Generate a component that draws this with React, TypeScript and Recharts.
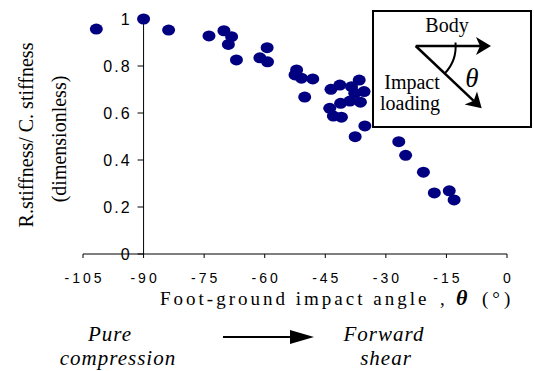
import React from "react";
import {
  ReferenceDot,
  ReferenceLine,
  Scatter,
  ScatterChart,
  XAxis,
  YAxis,
} from "recharts";

// foot-ground impact angle (deg)
const angles = [
  -101.7, -90, -83.8, -73.8, -70.1, -68.2, -69.0, -67.0, -59.4, -61.2, -59.3,
  -52.1, -52.5, -50.9, -48.1, -50.1, -43.6, -41.4, -38.5, -36.6, -35.4, -37.7,
  -41.2, -38.9, -36.3, -43.9, -43.0, -41.0, -35.2, -37.6, -26.8, -25.1, -20.7,
  -18.0, -14.3, -13.1,
];

// R. stiffness / C. stiffness
const ratios = [
  0.957, 1.0, 0.953, 0.928, 0.95, 0.925, 0.892, 0.826, 0.878, 0.835, 0.818,
  0.783, 0.762, 0.748, 0.745, 0.668, 0.701, 0.719, 0.712, 0.74, 0.691, 0.684,
  0.641, 0.651, 0.646, 0.62, 0.587, 0.582, 0.545, 0.499, 0.478, 0.42, 0.348,
  0.26, 0.269, 0.23,
];

const xTicks = [-105, -90, -75, -60, -45, -30, -15, 0];
const yTicks = [0, 0.2, 0.4, 0.6, 0.8, 1];
const yAxisAt = -90;

const points = angles.map((x, i) => ({ x, y: ratios[i] }));

const SANS = "Liberation Sans";
const SERIF = "Liberation Serif";
const NAVY = "#000080";

const Dot = (p: any) => <ellipse cx={p.cx} cy={p.cy} rx={6.5} ry={5.5} fill={NAVY} />;

const XTick = (p: any) => (
  <text
    x={p.x + 1.5}
    y={p.y}
    dy="0.71em"
    textAnchor="middle"
    fill="#000"
    fontFamily={SANS}
    fontSize={14}
    letterSpacing={3}
  >
    {p.payload.value}
  </text>
);

// y axis sits at theta = -90, so its ticks are reference dots on that line
const yTickShape = (label: string) => (p: any) => (
  <g>
    <line x1={p.cx - 6} y1={p.cy} x2={p.cx} y2={p.cy} stroke="#000" strokeWidth={1} />
    <text
      x={p.cx - 12}
      y={p.cy}
      dy="0.36em"
      textAnchor="end"
      fill="#000"
      fontFamily={SANS}
      fontSize={16}
      letterSpacing={2}
    >
      {label}
    </text>
  </g>
);

const serif = (size: number, extra: any = {}) => ({
  fontFamily: SERIF,
  fontSize: size,
  fill: "#000",
  ...extra,
});

function Overlay() {
  return (
    <svg
      width={534}
      height={371}
      style={{ position: "absolute", left: 0, top: 0, pointerEvents: "none" }}
    >
      {/* y axis title */}
      <text x={33} y={135} textAnchor="middle" transform="rotate(-90 33 135)" {...serif(20)}>
        R.stiffness/ C. stiffness
      </text>
      <text x={66} y={139} textAnchor="middle" transform="rotate(-90 66 139)" {...serif(20)}>
        (dimensionless)
      </text>

      {/* x axis title */}
      <text x={160} y={305} {...serif(19, { letterSpacing: 3 })}>
        Foot-ground impact angle
      </text>
      <text x={440} y={305} {...serif(19)}>,</text>
      <text x={456} y={305} {...serif(22, { fontStyle: "italic", fontWeight: "bold" })}>
        θ
      </text>
      <text x={482} y={305} {...serif(19, { letterSpacing: 4 })}>
        (°)
      </text>

      {/* bottom annotation */}
      <text x={110} y={341} textAnchor="middle" {...serif(21, { fontStyle: "italic", letterSpacing: 1 })}>
        Pure
      </text>
      <text x={118} y={365} textAnchor="middle" {...serif(21, { fontStyle: "italic", letterSpacing: 1 })}>
        compression
      </text>
      <text x={384} y={341} textAnchor="middle" {...serif(21, { fontStyle: "italic", letterSpacing: 1 })}>
        Forward
      </text>
      <text x={386} y={365} textAnchor="middle" {...serif(21, { fontStyle: "italic", letterSpacing: 1 })}>
        shear
      </text>
      <line x1={223} y1={337} x2={292} y2={337} stroke="#000" strokeWidth={2} />
      <polygon points="290,330 314,337 290,344" fill="#000" />

      {/* inset */}
      <rect x={373} y={11} width={158} height={116} fill="#fff" stroke="#000" strokeWidth={2} />
      <text x={447} y={32} textAnchor="middle" {...serif(20)}>Body</text>
      <text x={412} y={89} textAnchor="middle" {...serif(20)}>Impact</text>
      <text x={410} y={110} textAnchor="middle" {...serif(20)}>loading</text>
      <text x={472} y={87} textAnchor="middle" {...serif(27, { fontStyle: "italic" })}>
        θ
      </text>
      <line x1={415.7} y1={46} x2={482} y2={46} stroke="#000" strokeWidth={2.5} />
      <polygon points="491,46 476,37 480,46 476,55" fill="#000" />
      <line x1={415.7} y1={46} x2={473.7} y2={100.8} stroke="#000" strokeWidth={2.5} />
      <polygon points="481.7,108.3 464.6,104.6 473.7,100.8 477,91.4" fill="#000" />
      <path d="M 455.5 42.5 A 40 40 0 0 1 444.8 73.4" fill="none" stroke="#000" strokeWidth={2} />
    </svg>
  );
}

export default function App() {
  return (
    <div style={{ position: "absolute", left: 0, top: 0, width: 534, height: 371, background: "#fff" }}>
      <ScatterChart width={534} height={371} margin={{ top: 19, right: 27, left: 83, bottom: 0 }}>
        <XAxis
          type="number"
          dataKey="x"
          domain={[-105, 0]}
          ticks={xTicks}
          height={117}
          tickSize={4}
          tickMargin={15}
          stroke="#000"
          tick={XTick}
          interval={0}
        />
        <YAxis type="number" dataKey="y" domain={[0, 1]} hide />
        <ReferenceLine x={yAxisAt} stroke="#000" strokeWidth={1} />
        {yTicks.map((t) => (
          <ReferenceDot
            key={t}
            x={yAxisAt}
            y={t}
            r={0}
            shape={yTickShape(String(t))}
          />
        ))}
        <Scatter data={points} fill={NAVY} shape={Dot} isAnimationActive={false} />
      </ScatterChart>
      <Overlay />
    </div>
  );
}
